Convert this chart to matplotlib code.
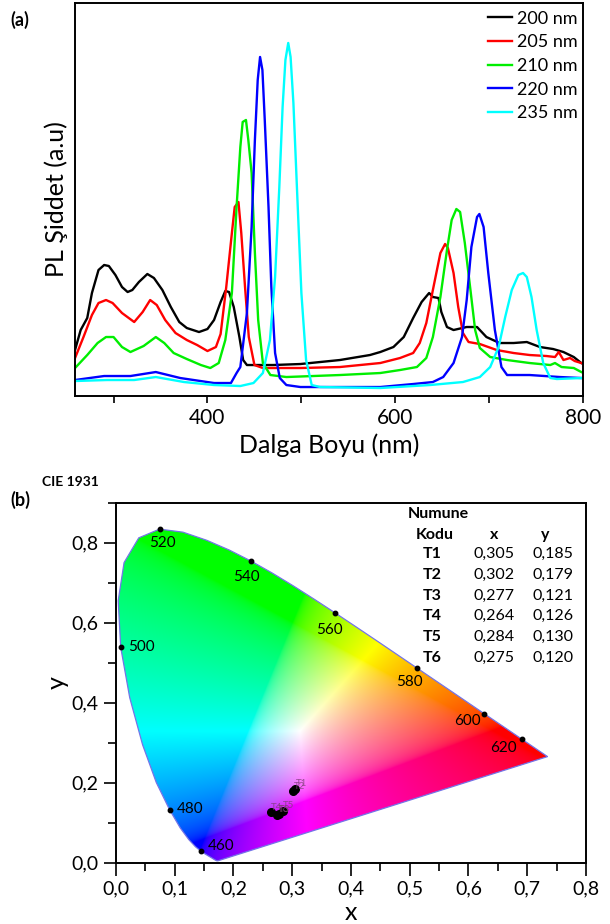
import numpy as np
import matplotlib
matplotlib.use("Agg")
import matplotlib.pyplot as plt
from matplotlib.patches import Polygon
from matplotlib.ticker import FixedLocator, FuncFormatter, MultipleLocator

plt.rcParams['font.family'] = ['Lato', 'DejaVu Sans']

# ---- (a) PL spektrumlari (dalga boyu nm, siddet a.u.) okunan degerler ----
wl_200 = [259, 265, 272, 277, 284, 290, 295, 302, 309, 315, 320, 327, 336, 343, 352, 361, 370, 378, 391, 400,
          407, 414, 419, 423, 428, 434, 438, 442, 470, 499, 541, 573, 584, 598, 609, 619, 628, 636, 640, 646,
          649, 655, 662, 676, 687, 697, 711, 726, 740, 754, 768, 779, 790, 798]
pl_200 = [46, 66, 78, 103, 126, 131, 130, 121, 109, 104, 106, 114, 122, 118, 106, 89, 74, 68, 64, 67,
          76, 94, 105, 104, 89, 59, 36, 31, 31, 32, 36, 41, 44, 49, 59, 78, 94, 103, 99, 98,
          84, 69, 66, 69, 69, 59, 53, 53, 54, 49, 47, 44, 39, 33]

wl_205 = [259, 268, 277, 284, 292, 299, 309, 322, 331, 339, 346, 355, 366, 378, 389, 400, 409, 414, 420, 426,
          429, 433, 436, 440, 444, 450, 459, 499, 541, 584, 605, 619, 626, 633, 640, 648, 653, 656, 662, 667,
          672, 678, 690, 708, 726, 743, 761, 770, 774, 779, 786, 791, 798]
pl_205 = [38, 59, 81, 93, 96, 93, 83, 74, 84, 96, 91, 76, 63, 56, 51, 45, 49, 62, 109, 163,
          189, 194, 163, 109, 59, 31, 28, 28, 29, 33, 38, 43, 53, 73, 106, 143, 152, 148, 123, 89,
          63, 54, 52, 46, 43, 41, 40, 39, 44, 36, 38, 35, 33]

wl_210 = [259, 272, 283, 292, 300, 309, 318, 332, 345, 354, 364, 378, 393, 403, 412, 419, 426, 431, 435, 437.5,
          441, 443.5, 447, 450.5, 454, 459, 467, 484, 541, 584, 605, 623, 633, 640, 648, 655, 660, 665, 669, 674,
          680, 685, 690, 701, 719, 743, 765, 770, 777, 790, 798]
pl_210 = [28, 41, 53, 59, 59, 49, 44, 50, 59, 53, 43, 37, 31, 28, 33, 56, 103, 189, 249, 274,
          276, 256, 223, 143, 76, 33, 21, 19, 21, 23, 26, 29, 38, 59, 99, 146, 176, 187, 184, 153,
          106, 66, 48, 39, 36, 33, 31, 33, 29, 28, 24]

wl_220 = [259, 290, 318, 345, 371, 407, 425, 431, 435, 442, 447, 450.5, 453.5, 456, 458.5, 461, 465, 468, 472, 477,
          484, 499, 584, 619, 640, 651, 662, 671, 676, 681, 687, 689.5, 694, 699, 706, 713, 719, 743, 775, 798]
pl_220 = [16, 20, 20, 24, 18, 13, 13, 23, 29, 83, 169, 256, 316, 339, 326, 276, 189, 109, 43, 18,
          11, 9, 9, 12, 14, 19, 33, 59, 96, 149, 179, 182, 169, 123, 66, 29, 21, 21, 19, 18]

wl_235 = [259, 293, 322, 345, 375, 407, 435, 449, 459, 466.5, 472, 476.5, 480, 483, 486, 488.5, 491.5, 495.5, 500, 505,
          511, 520, 584, 637, 672, 690, 701, 710, 717, 724, 731, 736, 740, 745, 750.5, 757.5, 765, 772, 798]
pl_235 = [15, 16, 16, 19, 14, 11, 10, 13, 23, 56, 119, 209, 289, 336, 353, 339, 293, 203, 103, 36,
          11, 9, 8, 11, 14, 19, 29, 49, 79, 106, 121, 123, 119, 99, 66, 33, 18, 17, 18]

labels_a = ["200 nm", "205 nm", "210 nm", "220 nm", "235 nm"]
colors_a = ["#000000", "#ff0000", "#00ee00", "#0000ff", "#00ffff"]

# ---- (b) CIE 1931 spektral egri (nm, x, y) ----
locus_nm = [380, 385, 390, 395, 400, 405, 410, 415, 420, 425, 430, 435, 440, 445, 450, 455, 460, 465, 470, 475,
            480, 485, 490, 495, 500, 505, 510, 515, 520, 525, 530, 535, 540, 545, 550, 555, 560, 565, 570, 575,
            580, 585, 590, 595, 600, 605, 610, 615, 620, 625, 630, 635, 640, 645, 650, 655, 660, 665, 670, 680,
            700]
locus_x = [0.1741, 0.1740, 0.1738, 0.1736, 0.1733, 0.1730, 0.1726, 0.1721, 0.1714, 0.1703, 0.1689, 0.1669, 0.1644,
           0.1611, 0.1566, 0.1510, 0.1440, 0.1355, 0.1241, 0.1096, 0.0913, 0.0687, 0.0454, 0.0235, 0.0082, 0.0039,
           0.0139, 0.0389, 0.0743, 0.1142, 0.1547, 0.1929, 0.2296, 0.2658, 0.3016, 0.3373, 0.3731, 0.4087, 0.4441,
           0.4788, 0.5125, 0.5448, 0.5752, 0.6029, 0.6270, 0.6482, 0.6658, 0.6801, 0.6915, 0.7006, 0.7079, 0.7140,
           0.7190, 0.7230, 0.7260, 0.7283, 0.7300, 0.7311, 0.7320, 0.7334, 0.7347]
locus_y = [0.0050, 0.0050, 0.0049, 0.0049, 0.0048, 0.0048, 0.0048, 0.0048, 0.0051, 0.0058, 0.0069, 0.0086, 0.0109,
           0.0138, 0.0177, 0.0227, 0.0297, 0.0399, 0.0578, 0.0868, 0.1327, 0.2007, 0.2950, 0.4127, 0.5384, 0.6548,
           0.7502, 0.8120, 0.8338, 0.8262, 0.8059, 0.7816, 0.7543, 0.7243, 0.6923, 0.6589, 0.6245, 0.5896, 0.5547,
           0.5202, 0.4866, 0.4544, 0.4242, 0.3965, 0.3725, 0.3514, 0.3340, 0.3197, 0.3083, 0.2993, 0.2920, 0.2859,
           0.2809, 0.2770, 0.2740, 0.2717, 0.2700, 0.2689, 0.2680, 0.2666, 0.2653]

marked_nm = [460, 480, 500, 520, 540, 560, 580, 600, 620]
marked_offset = [(7, 5, 'left'), (7, 1, 'left'), (7, 0, 'left'), (3, -14, 'center'), (-4, -16, 'center'),
                 (-6, -17, 'center'), (-8, -14, 'center'), (-17, -7, 'center'), (-19, -9, 'center')]

sample_names = ["T1", "T2", "T3", "T4", "T5", "T6"]
sample_x = [0.305, 0.302, 0.277, 0.264, 0.284, 0.275]
sample_y = [0.185, 0.179, 0.121, 0.126, 0.130, 0.120]


def comma(v, pos):
    return f"{v:.1f}".replace(".", ",")


fig = plt.figure(figsize=(6.1, 9.24), dpi=100)

# ---------------- (a) ----------------
ax = fig.add_axes([0.123, 0.5714, 0.833, 0.4254])
series = [(wl_200, pl_200), (wl_205, pl_205), (wl_210, pl_210), (wl_220, pl_220), (wl_235, pl_235)]
for (wl, pl), lab, col in zip(series, labels_a, colors_a):
    ax.plot(wl, pl, color=col, lw=1.7, label=lab)
ax.set_xlim(259, 800)
ax.set_ylim(0, 393)
ax.set_yticks([])
ax.xaxis.set_major_locator(FixedLocator([400, 600, 800]))
ax.xaxis.set_minor_locator(FixedLocator([300, 500, 700]))
ax.tick_params(axis='x', which='both', direction='out', length=5, width=1.2, labelsize=15)
for s in ax.spines.values():
    s.set_linewidth(1.4)
ax.set_xlabel("Dalga Boyu (nm)", fontsize=18)
ax.set_ylabel("PL Şiddet (a.u)", fontsize=18, labelpad=5)
ax.legend(loc='upper right', bbox_to_anchor=(0.99, 0.98), frameon=False, fontsize=13,
          handlelength=1.35, handletextpad=0.3, labelspacing=0.42, borderaxespad=0, borderpad=0)
fig.text(0.033, 0.978, "(a)", fontsize=13, fontweight='bold', ha='center', va='center')

# ---------------- (b) ----------------
bx = fig.add_axes([0.190, 0.0663, 0.7705, 0.3897])
bx.set_xlim(0, 0.8)
bx.set_ylim(0, 0.9)

gx = np.linspace(0.0, 0.8, 640)
gy = np.linspace(0.002, 0.9, 720)
xx, yy = np.meshgrid(gx, gy)
XYZ = np.stack([xx / yy, np.ones_like(xx), (1 - xx - yy) / yy], axis=-1)
M = np.array([[3.2406, -1.5372, -0.4986],
              [-0.9689, 1.8758, 0.0415],
              [0.0557, -0.2040, 1.0570]])
rgb = np.clip(XYZ @ M.T, 0, None)
rgb = rgb / np.maximum(rgb.max(axis=-1, keepdims=True), 1e-9)
rgb = np.where(rgb <= 0.0031308, 12.92 * rgb, 1.055 * rgb ** (1 / 2.4) - 0.055)
rgb = np.clip(rgb, 0, 1)

im = bx.imshow(rgb, origin='lower', extent=(0, 0.8, 0.002, 0.9), aspect='auto', interpolation='bilinear')
poly = Polygon(np.column_stack([locus_x, locus_y]), closed=True, facecolor='none',
               edgecolor='#7474e8', lw=0.9)
bx.add_patch(poly)
im.set_clip_path(poly)

for nm, (dx, dy, ha) in zip(marked_nm, marked_offset):
    i = locus_nm.index(nm)
    bx.plot(locus_x[i], locus_y[i], 'o', color='black', ms=3.2)
    bx.annotate(str(nm), (locus_x[i], locus_y[i]), xytext=(dx, dy), textcoords='offset pixels',
                ha=ha, va='center', fontsize=11)

bx.plot(sample_x, sample_y, 'o', color='black', ms=5.5, zorder=4)
for name, sx, sy in zip(sample_names, sample_x, sample_y):
    bx.annotate(name, (sx, sy), xytext=(6, 5), textcoords='offset pixels', fontsize=7,
                color='#7d3f78', alpha=0.8, ha='center', va='center', zorder=5)

# tablo
bx.text(0.549, 0.8715, "Numune", fontsize=11.5, fontweight='bold', ha='center', va='center')
bx.text(0.543, 0.8188, "Kodu", fontsize=11.5, fontweight='bold', ha='center', va='center')
bx.text(0.643, 0.8188, "x", fontsize=11.5, fontweight='bold', ha='center', va='center')
bx.text(0.731, 0.8188, "y", fontsize=11.5, fontweight='bold', ha='center', va='center')
for k, (name, sx, sy) in enumerate(zip(sample_names, sample_x, sample_y)):
    ty = 0.7712 - k * 0.0518
    bx.text(0.538, ty, name, fontsize=11.5, fontweight='bold', ha='center', va='center')
    bx.text(0.644, ty, f"{sx:.3f}".replace(".", ","), fontsize=11.5, ha='center', va='center')
    bx.text(0.7445, ty, f"{sy:.3f}".replace(".", ","), fontsize=11.5, ha='center', va='center')

bx.xaxis.set_major_locator(MultipleLocator(0.1))
bx.xaxis.set_minor_locator(MultipleLocator(0.05))
bx.yaxis.set_major_locator(MultipleLocator(0.2))
bx.yaxis.set_minor_locator(MultipleLocator(0.1))
bx.xaxis.set_major_formatter(FuncFormatter(comma))
bx.yaxis.set_major_formatter(FuncFormatter(comma))
bx.tick_params(which='major', direction='out', length=9, width=1.2, labelsize=14)
bx.tick_params(which='minor', direction='out', length=5.5, width=1.2)
for s in bx.spines.values():
    s.set_linewidth(1.4)
bx.set_xlabel("x", fontsize=18, labelpad=2.5)
bx.set_ylabel("y", fontsize=18, labelpad=2)

fig.text(0.033, 0.459, "(b)", fontsize=13, fontweight='bold', ha='center', va='center')
fig.text(0.069, 0.4784, "CIE 1931", fontsize=10, fontweight='bold', ha='left', va='center')

fig.savefig("out.png", dpi=100)
